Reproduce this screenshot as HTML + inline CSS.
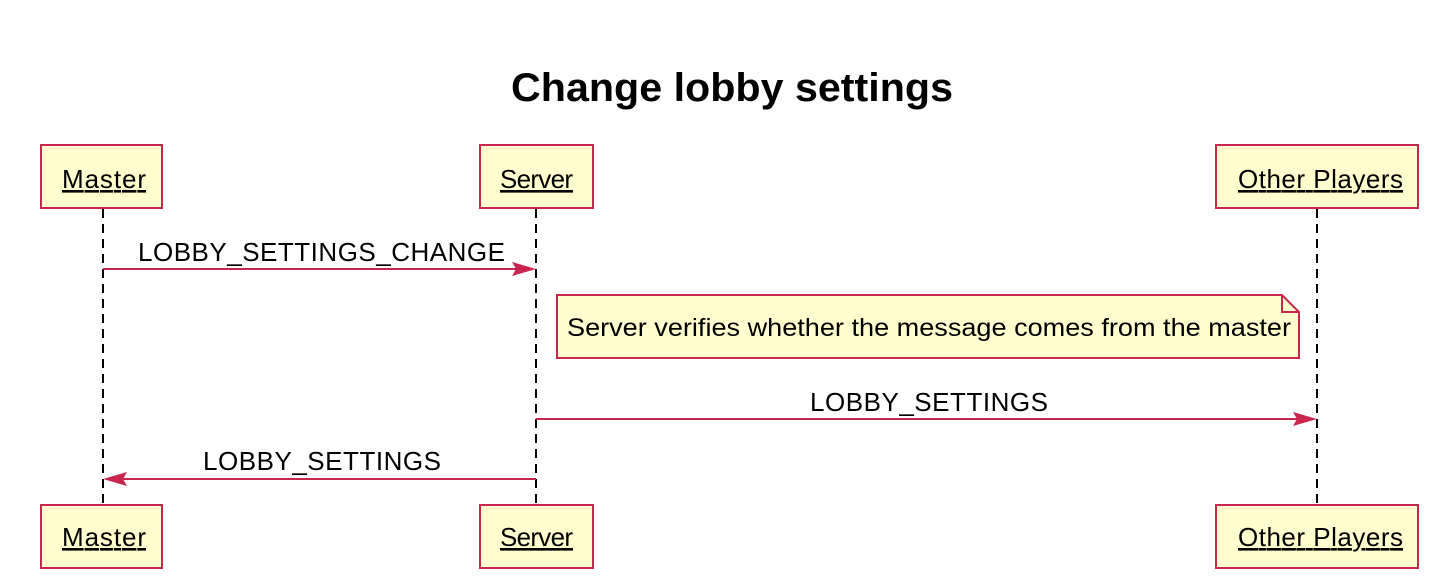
<!DOCTYPE html>
<html><head><style>body{margin:0;background:#fff}</style></head><body>
<svg width="1453" height="575" xmlns="http://www.w3.org/2000/svg" font-family="Liberation Sans, sans-serif">
<text x="511" y="101" font-size="40" font-weight="bold" textLength="442" lengthAdjust="spacingAndGlyphs" fill="#000">Change lobby settings</text>
<g stroke="#000" stroke-width="2" stroke-dasharray="9,6">
<line x1="103" y1="209" x2="103" y2="505"/>
<line x1="536" y1="209" x2="536" y2="505"/>
<line x1="1317" y1="209" x2="1317" y2="505"/>
</g>
<g fill="#FEFECE" stroke="#C8264E" stroke-width="2">
<rect x="41" y="145" width="121" height="63"/>
<rect x="480" y="145" width="113" height="63"/>
<rect x="1216" y="145" width="202" height="63"/>
<rect x="41" y="505" width="121" height="63"/>
<rect x="480" y="505" width="113" height="63"/>
<rect x="1216" y="505" width="202" height="63"/>
<path d="M557 295 H1282 L1299 312 V358 H557 Z"/>
<path d="M1282 295 V312 H1299" fill="none"/>
</g>
<g font-size="26" fill="#000" text-decoration="underline" lengthAdjust="spacingAndGlyphs">
<text x="62" y="188" textLength="84">Master</text>
<text x="500" y="188" textLength="73">Server</text>
<text x="1238" y="188" textLength="165">Other Players</text>
<text x="62" y="546" textLength="84">Master</text>
<text x="500" y="546" textLength="73">Server</text>
<text x="1238" y="546" textLength="165">Other Players</text>
</g>
<text x="567" y="336" font-size="25" textLength="724" lengthAdjust="spacingAndGlyphs" fill="#000">Server verifies whether the message comes from the master</text>
<g stroke="#C8264E" stroke-width="2">
<line x1="103" y1="269" x2="520" y2="269"/>
<line x1="536" y1="419" x2="1300" y2="419"/>
<line x1="120" y1="479" x2="536" y2="479"/>
</g>
<g fill="#C8264E">
<polygon points="536,269 512,262 516,269 512,276"/>
<polygon points="1317,419 1293,412 1297,419 1293,426"/>
<polygon points="103,479 127,472 123,479 127,486"/>
</g>
<g font-size="26" fill="#000" lengthAdjust="spacingAndGlyphs">
<text x="138" y="261" textLength="367">LOBBY_SETTINGS_CHANGE</text>
<text x="810" y="411" textLength="238">LOBBY_SETTINGS</text>
<text x="203" y="470" textLength="238">LOBBY_SETTINGS</text>
</g>
</svg>
</body></html>
